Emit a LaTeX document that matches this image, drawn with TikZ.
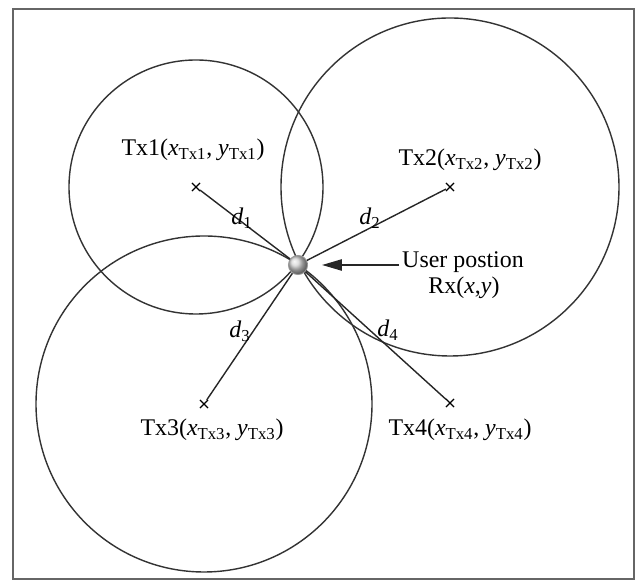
\documentclass[tikz,border=0pt]{standalone}
\usepackage{fontspec}
\setmainfont{Liberation Serif}
\usetikzlibrary{arrows.meta, shapes.misc, shadings}

% label of a transmitter, e.g. Tx1(x_Tx1, y_Tx1)
\newcommand{\txlab}[1]{Tx#1(\textit{x}\textsubscript{Tx#1}, \textit{y}\textsubscript{Tx#1})}

\begin{document}
\begin{tikzpicture}[
                x=0.025cm, y=-0.025cm,
                >={Triangle[length=14pt, width=8pt]},
                font=\fontsize{17}{20}\selectfont,
                frame/.style={draw=black!60, line width=1.3pt},
                rangecircle/.style={draw=black!80, line width=1pt},
                link/.style={draw=black!85, line width=1pt},
                txmark/.style={cross out, draw=black, line width=0.8pt, minimum size=5pt, inner sep=0pt},
                rxball/.style={circle, minimum size=0.48cm, inner sep=0pt, shading=ball, ball color=gray!35, draw=gray!80, line width=0.6pt},
                txlabel/.style={inner sep=1pt},
                dlabel/.style={inner sep=0pt},
                ]

                % ── Page size and outer frame (pixel units) ──
                \useasboundingbox (0,0) rectangle (641,582);
                \draw[frame] (13,9) rectangle (634,579);

                % ── Transmitters and receiver ──
                \node[txmark] (t1) at (196,187) {};
                \node[txmark] (t2) at (450,187) {};
                \node[txmark] (t3) at (204,404) {};
                \node[txmark] (t4) at (450,403) {};

                % Range circles round the transmitters
                \draw[rangecircle] (t1.center) circle (127);
                \draw[rangecircle] (t2.center) circle (169);
                \draw[rangecircle] (t3.center) circle (168);

                \node[rxball] (rx) at (298,265) {};

                % Distances to the user
                \draw[link] (t1) -- (rx);
                \draw[link] (t2) -- (rx);
                \draw[link] (t3) -- (rx);
                \draw[link] (t4) -- (rx);

                \node[dlabel] (d1) at (242,218) {\textit{d}\textsubscript{1}};
                \node[dlabel] (d2) at (370,218) {\textit{d}\textsubscript{2}};
                \node[dlabel] (d3) at (240,331) {\textit{d}\textsubscript{3}};
                \node[dlabel] (d4) at (388,330) {\textit{d}\textsubscript{4}};

                % ── Labels ──
                \node[txlabel] (l1) at (193,150) {\txlab{1}};
                \node[txlabel] (l2) at (470,160) {\txlab{2}};
                \node[txlabel] (l3) at (212,430) {\txlab{3}};
                \node[txlabel] (l4) at (460,430) {\txlab{4}};

                \node[inner sep=2pt] (user) at (463,262) {User postion};
                \node[inner sep=2pt] (rxlab) at (464,288) {Rx(\textit{x},\textit{y})};
                \draw[->, link, shorten >=10pt] (user.west |- rx) -- (rx);

\end{tikzpicture}
\end{document}
